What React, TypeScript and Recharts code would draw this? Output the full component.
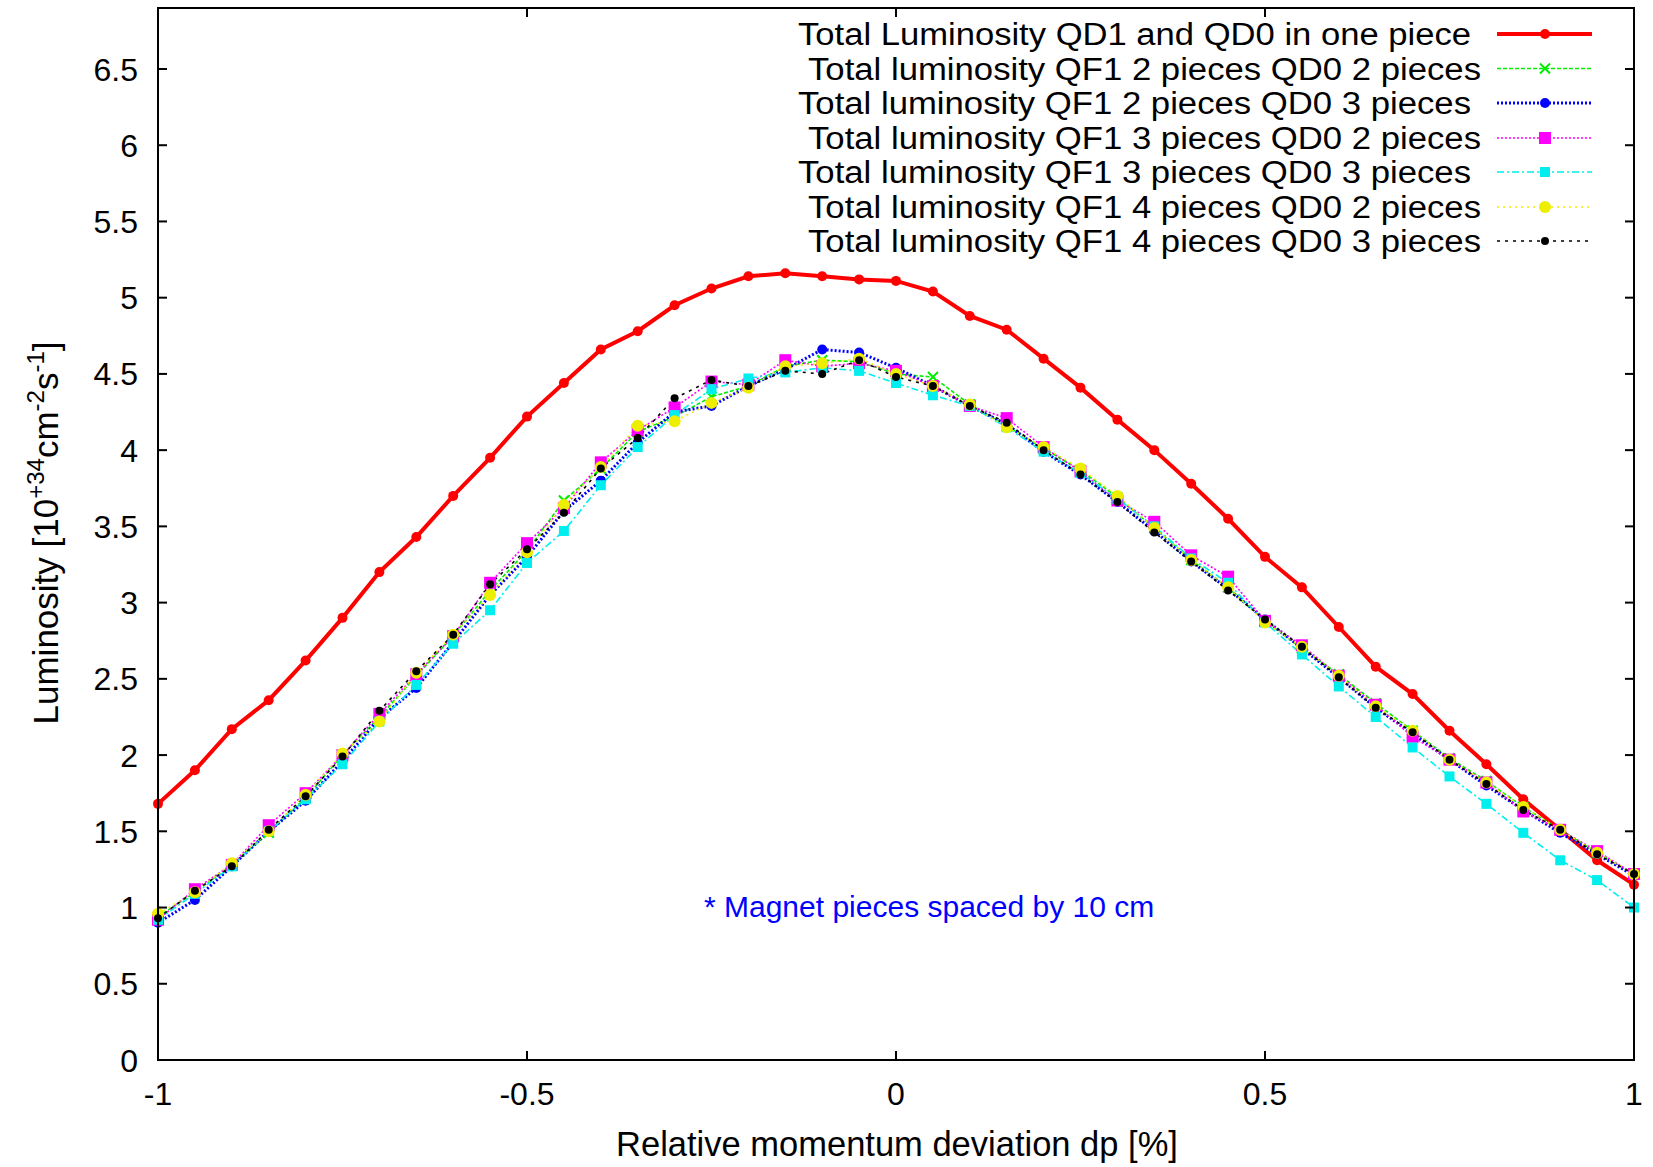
import React from "react";
import { LineChart, Line, XAxis, YAxis, Legend } from "recharts";

const dp = [
  -1, -0.95, -0.9, -0.85, -0.8, -0.75, -0.7, -0.65, -0.6, -0.55, -0.5, -0.45, -0.4, -0.35,
  -0.3, -0.25, -0.2, -0.15, -0.1, -0.05, 0, 0.05, 0.1, 0.15, 0.2, 0.25, 0.3, 0.35, 0.4,
  0.45, 0.5, 0.55, 0.6, 0.65, 0.7, 0.75, 0.8, 0.85, 0.9, 0.95, 1,
];

const onePiece = [
  1.68, 1.9, 2.17, 2.36, 2.62, 2.9, 3.2, 3.43, 3.7, 3.95, 4.22, 4.44, 4.66, 4.78, 4.95, 5.06,
  5.14, 5.16, 5.14, 5.12, 5.11, 5.04, 4.88, 4.79, 4.6, 4.41, 4.2, 4.0, 3.78, 3.55, 3.3, 3.1,
  2.84, 2.58, 2.4, 2.16, 1.94, 1.71, 1.51, 1.31, 1.15,
];
const qf2qd2 = [
  0.94, 1.1, 1.28, 1.49, 1.72, 2.0, 2.25, 2.52, 2.78, 3.08, 3.34, 3.67, 3.88, 4.12, 4.22, 4.35,
  4.42, 4.55, 4.59, 4.58, 4.5, 4.48, 4.3, 4.16, 4.01, 3.87, 3.69, 3.49, 3.28, 3.1, 2.88, 2.7,
  2.53, 2.34, 2.16, 1.98, 1.83, 1.66, 1.51, 1.36, 1.22,
];
const qf2qd3 = [
  0.9, 1.05, 1.27, 1.5, 1.7, 1.96, 2.24, 2.44, 2.74, 3.05, 3.3, 3.6, 3.8, 4.05, 4.25, 4.29,
  4.42, 4.53, 4.66, 4.64, 4.54, 4.42, 4.29, 4.17, 3.99, 3.84, 3.66, 3.47, 3.27, 3.09, 2.89,
  2.7, 2.51, 2.31, 2.14, 1.97, 1.8, 1.64, 1.49, 1.35, 1.21,
];
const qf3qd2 = [
  0.92, 1.12, 1.28, 1.54, 1.75, 2.0, 2.27, 2.53, 2.78, 3.13, 3.39, 3.62, 3.92, 4.13, 4.28,
  4.45, 4.43, 4.59, 4.55, 4.57, 4.52, 4.42, 4.29, 4.21, 4.02, 3.86, 3.67, 3.53, 3.31, 3.17,
  2.88, 2.72, 2.52, 2.33, 2.12, 1.97, 1.82, 1.63, 1.51, 1.37, 1.22,
];
const qf3qd3 = [
  0.92, 1.09, 1.27, 1.5, 1.71, 1.94, 2.22, 2.46, 2.73, 2.95, 3.26, 3.47, 3.77, 4.02, 4.23, 4.4,
  4.47, 4.51, 4.54, 4.52, 4.44, 4.36, 4.29, 4.15, 3.99, 3.85, 3.68, 3.5, 3.29, 3.13, 2.87, 2.66,
  2.45, 2.25, 2.05, 1.86, 1.68, 1.49, 1.31, 1.18, 1.0,
];
const qf4qd2 = [
  0.96, 1.1, 1.29, 1.5, 1.74, 2.01, 2.22, 2.54, 2.79, 3.05, 3.33, 3.64, 3.89, 4.16, 4.19, 4.31,
  4.41, 4.55, 4.57, 4.6, 4.5, 4.42, 4.3, 4.15, 4.02, 3.88, 3.7, 3.49, 3.28, 3.1, 2.87, 2.71,
  2.52, 2.32, 2.16, 1.97, 1.82, 1.66, 1.51, 1.36, 1.22,
];
const qf4qd3 = [
  0.93, 1.11, 1.27, 1.51, 1.73, 1.99, 2.29, 2.55, 2.79, 3.12, 3.35, 3.59, 3.88, 4.08, 4.34,
  4.46, 4.42, 4.52, 4.5, 4.59, 4.48, 4.42, 4.29, 4.18, 4.0, 3.84, 3.66, 3.46, 3.27, 3.08, 2.89,
  2.71, 2.51, 2.31, 2.15, 1.97, 1.81, 1.64, 1.51, 1.35, 1.22,
];

const xTicks = [-1, -0.5, 0, 0.5, 1];
const yTicks = [0, 0.5, 1, 1.5, 2, 2.5, 3, 3.5, 4, 4.5, 5, 5.5, 6, 6.5];

const data = dp.map((x, i) => ({
  x,
  onePiece: onePiece[i],
  qf2qd2: qf2qd2[i],
  qf2qd3: qf2qd3[i],
  qf3qd2: qf3qd2[i],
  qf3qd3: qf3qd3[i],
  qf4qd2: qf4qd2[i],
  qf4qd3: qf4qd3[i],
}));

const W = 1653;
const H = 1167;
const LEFT = 158;
const RIGHT = 1634;
const TOP = 8;
const BOTTOM = 1060;
const FONT = "'Liberation Sans', Arial, Helvetica, sans-serif";

type Marker = "circle" | "square" | "cross";

const series = [
  { key: "onePiece", name: "Total Luminosity QD1 and QD0 in one piece", color: "#ff0000", width: 4, dash: undefined, marker: "circle" as Marker, size: 5 },
  { key: "qf2qd2", name: "Total luminosity QF1 2 pieces QD0 2 pieces", color: "#00ee00", width: 1.6, dash: "4 2", marker: "cross" as Marker, size: 5 },
  { key: "qf2qd3", name: "Total luminosity QF1 2 pieces QD0 3 pieces", color: "#0000ff", width: 3, dash: "2 2", marker: "circle" as Marker, size: 5 },
  { key: "qf3qd2", name: "Total luminosity QF1 3 pieces QD0 2 pieces", color: "#ff00ff", width: 1.6, dash: "2 2", marker: "square" as Marker, size: 6 },
  { key: "qf3qd3", name: "Total luminosity QF1 3 pieces QD0 3 pieces", color: "#00eeee", width: 1.6, dash: "7 3 2 3", marker: "square" as Marker, size: 5 },
  { key: "qf4qd2", name: "Total luminosity QF1 4 pieces QD0 2 pieces", color: "#eeee00", width: 1.6, dash: "2 4", marker: "circle" as Marker, size: 6 },
  { key: "qf4qd3", name: "Total luminosity QF1 4 pieces QD0 3 pieces", color: "#000000", width: 1.6, dash: "3 5", marker: "circle" as Marker, size: 4 },
];

// gnuplot right-justifies by its own estimate, so the ends do not line up exactly
const legendRight = [1471, 1481, 1471, 1481, 1471, 1481, 1481];
const legendRows = [34, 68.5, 103, 138, 172, 207, 241];

function drawMarker(m: Marker, cx: number, cy: number, s: number, color: string, key?: string) {
  if (m === "square")
    return <rect key={key} x={cx - s} y={cy - s} width={2 * s} height={2 * s} fill={color} />;
  if (m === "cross")
    return (
      <path
        key={key}
        d={`M${cx - s},${cy - s}L${cx + s},${cy + s}M${cx - s},${cy + s}L${cx + s},${cy - s}`}
        stroke={color}
        strokeWidth={2}
        fill="none"
      />
    );
  return <circle key={key} cx={cx} cy={cy} r={s} fill={color} />;
}

const XTick = (props: any) => {
  const { x, payload } = props;
  return (
    <g>
      <line x1={x} x2={x} y1={BOTTOM} y2={BOTTOM - 9} stroke="#000" strokeWidth={2} />
      <line x1={x} x2={x} y1={TOP} y2={TOP + 9} stroke="#000" strokeWidth={2} />
      <text x={x} y={1093} dy="0.36em" textAnchor="middle" fontSize={32} fontFamily={FONT} fill="#000">
        {String(payload.value)}
      </text>
    </g>
  );
};

const YTick = (props: any) => {
  const { y, payload } = props;
  return (
    <g>
      <line x1={LEFT} x2={LEFT + 9} y1={y} y2={y} stroke="#000" strokeWidth={2} />
      <line x1={RIGHT} x2={RIGHT - 9} y1={y} y2={y} stroke="#000" strokeWidth={2} />
      <text x={138} y={y} dy="0.36em" textAnchor="end" fontSize={32} fontFamily={FONT} fill="#000">
        {String(payload.value)}
      </text>
    </g>
  );
};

const XLabel = () => (
  <text x={897} y={1156} textAnchor="middle" fontSize={34.5} fontFamily={FONT} fill="#000">
    Relative momentum deviation dp [%]
  </text>
);

const YLabel = () => (
  <text
    x={58}
    y={533}
    transform="rotate(-90 58 533)"
    textAnchor="middle"
    fontSize={35}
    fontFamily={FONT}
    fill="#000"
  >
    Luminosity [10
    <tspan dy={-14} fontSize={24}>+34</tspan>
    <tspan dy={14}>cm</tspan>
    <tspan dy={-14} fontSize={24}>-2</tspan>
    <tspan dy={14}>s</tspan>
    <tspan dy={-14} fontSize={24}>-1</tspan>
    <tspan dy={14}>]</tspan>
  </text>
);

const LegendBox = () => (
  <svg width={W} height={H} style={{ display: "block", pointerEvents: "none" }}>
    <rect x={LEFT} y={TOP} width={RIGHT - LEFT} height={BOTTOM - TOP} fill="none" stroke="#000" strokeWidth={2} />
    {series.map((s, i) => (
      <g key={s.key}>
        <text
          x={legendRight[i]}
          y={legendRows[i]}
          dy="0.36em"
          textAnchor="end"
          fontSize={31}
          textLength={673}
          lengthAdjust="spacingAndGlyphs"
          fontFamily={FONT}
          fill="#000"
        >
          {s.name}
        </text>
        <line
          x1={1497}
          x2={1592}
          y1={legendRows[i]}
          y2={legendRows[i]}
          stroke={s.color}
          strokeWidth={s.width}
          strokeDasharray={s.dash}
        />
        {drawMarker(s.marker, 1545, legendRows[i], s.size, s.color)}
      </g>
    ))}
    <text x={704} y={917} fontSize={30} fontFamily={FONT} fill="#0000ff">
      * Magnet pieces spaced by 10 cm
    </text>
  </svg>
);

export default function App() {
  return (
    <div style={{ position: "absolute", left: 0, top: 0, width: W, height: H, background: "#fff" }}>
      <LineChart
        width={W}
        height={H}
        data={data}
        margin={{ top: TOP, right: W - RIGHT, bottom: H - BOTTOM - 100, left: LEFT - 150 }}
      >
        <XAxis
          dataKey="x"
          type="number"
          domain={[-1, 1]}
          ticks={xTicks}
          height={100}
          axisLine={{ stroke: "#000", strokeWidth: 2 }}
          tickLine={false}
          tick={<XTick />}
          label={<XLabel />}
          interval={0}
        />
        <YAxis
          type="number"
          domain={[0, 6.9]}
          ticks={yTicks}
          width={150}
          axisLine={{ stroke: "#000", strokeWidth: 2 }}
          tickLine={false}
          tick={<YTick />}
          label={<YLabel />}
          interval={0}
          allowDataOverflow
        />
        <Legend
          layout="horizontal"
          verticalAlign="middle"
          align="center"
          content={() => <LegendBox />}
          wrapperStyle={{ position: "absolute", left: 0, top: 0, width: W, height: H, pointerEvents: "none" }}
        />
        {series.map((s) => (
          <Line
            key={s.key}
            type="linear"
            dataKey={s.key}
            name={s.name}
            stroke={s.color}
            strokeWidth={s.width}
            strokeDasharray={s.dash}
            isAnimationActive={false}
            activeDot={false}
            dot={(p: any) =>
              p.cx == null || p.cy == null
                ? <g key={`${s.key}-${p.index}`} />
                : drawMarker(s.marker, p.cx, p.cy, s.size, s.color, `${s.key}-${p.index}`)
            }
          />
        ))}
      </LineChart>
    </div>
  );
}
